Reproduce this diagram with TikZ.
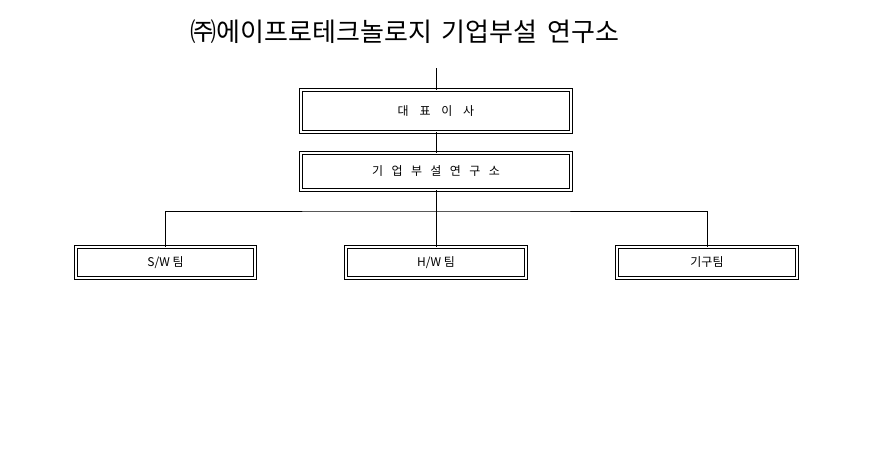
\documentclass[tikz,border=0pt]{standalone}
\usepackage{fontspec}
\newfontfamily\kr{Noto Sans CJK KR}
\begin{document}
\begin{tikzpicture}[x=1pt,y=-1pt,
  box/.style={draw,double,double distance=1.6pt,line width=0.9pt,inner sep=0pt,font=\kr\fontsize{12}{14}\selectfont},
  ln/.style={line width=1pt}]
\useasboundingbox (0,0) rectangle (869,450);
\node[font=\kr\fontsize{26}{30}\selectfont] (title) at (405,32) {㈜에이프로테크놀로지\hspace{0.15em} 기업부설\hspace{0.15em} 연구소};
\node[box,minimum width=270pt,minimum height=42pt] (ceo) at (436,111) {대\hspace{0.9em}표\hspace{0.9em}이\hspace{0.9em}사};
\node[box,minimum width=270pt,minimum height=37pt] (lab) at (436,171.5) {기\hspace{0.7em}업\hspace{0.7em}부\hspace{0.7em}설\hspace{0.7em}연\hspace{0.7em}구\hspace{0.7em}소};
\node[box,minimum width=179pt,minimum height=31pt] (sw) at (165.5,262.5) {S/W 팀};
\node[box,minimum width=180pt,minimum height=31pt] (hw) at (436,262.5) {H/W 팀};
\node[box,minimum width=180pt,minimum height=31pt] (mech) at (707,262.5) {기구팀};
\coordinate (top) at (436,68);
\coordinate (bus) at (436,211);
\draw[ln] (top) -- (ceo.north);
\draw[ln] (ceo.south) -- (lab.north);
\draw[ln] (lab.south) -- (bus);
\draw[ln] (sw.north) |- (bus) -| (mech.north);
\draw[ln] (bus) -- (hw.north);
\end{tikzpicture}
\end{document}
